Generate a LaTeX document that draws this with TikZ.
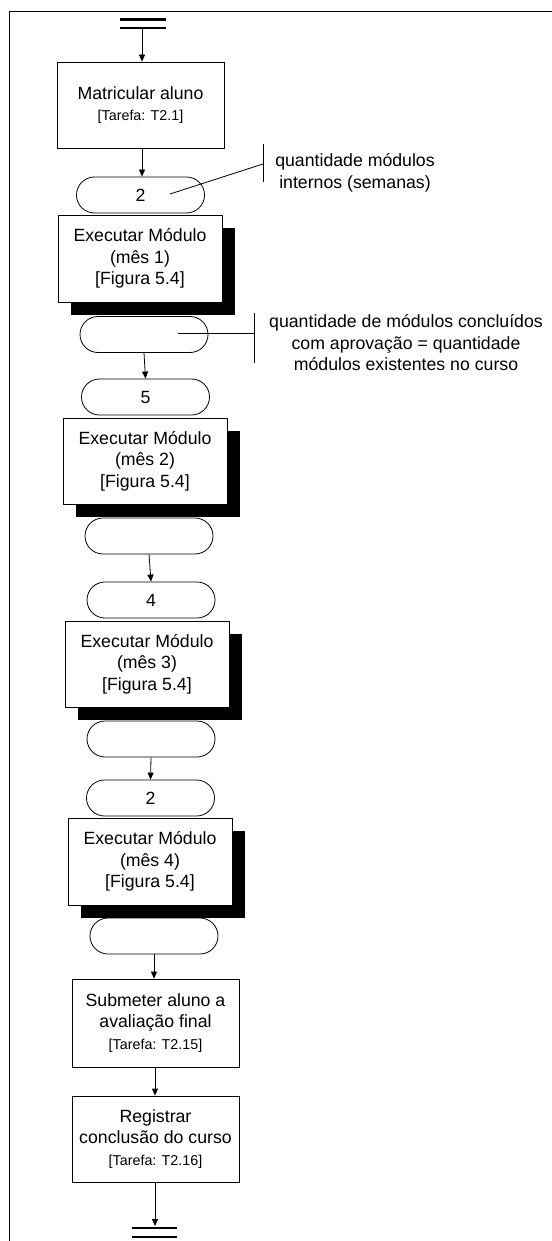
\documentclass[tikz,border=0pt]{standalone}
\usepackage{fontspec}
\setmainfont{Liberation Sans}
\usetikzlibrary{arrows.meta,shapes.misc,shadows}

\newcommand{\grande}{\fontsize{17.7}{21.5}\selectfont}
\newcommand{\tarefa}[1]{{\fontsize{14.3}{17}\selectfont[Tarefa: #1]}}

\tikzset{
  caixa/.style={draw, line width=0.8pt, fill=white, minimum width=167pt,
    minimum height=87pt, align=center, font=\grande, inner sep=0pt},
  modulo/.style={caixa, minimum width=164pt,
    drop shadow={shadow xshift=13pt, shadow yshift=-13pt, fill=black, opacity=1}},
  contador/.style={draw, line width=0.8pt, fill=white, rounded rectangle,
    minimum width=128pt, minimum height=36pt, font=\grande, inner sep=0pt},
  seta/.style={line width=0.8pt, -{Triangle[length=7pt,width=6pt]}},
  barra/.style={line width=2.8pt},
  fio/.style={line width=0.8pt},
  nota/.style={align=center, font=\grande, inner sep=0pt}
}

\begin{document}
\begin{tikzpicture}[x=1pt,y=-1pt]
\useasboundingbox (0,0) rectangle (551,1241);

% Moldura
\draw [line width=1.2pt] (9.5,1260) -- (9.5,11.7) -- (570,11.7);

% Inicio
\coordinate (ini) at (142,28);
\draw [barra] (120,19.5) -- (166,19.5);
\draw [barra] (120,28) -- (166,28);

% Matricula
\node [caixa, minimum height=86pt] (matric) at (140.5,105) {Matricular aluno\\\tarefa{T2.1}};
\node [contador] (qtd1) at (140.5,195) {2};

% Modulo 1
\node [modulo] (mod1) at (140,258.5) {Executar Módulo\\(mês 1)\\{[}Figura 5.4{]}};
\node [contador] (fim1) at (144,334.5) {};
\node [contador] (qtd2) at (145.5,397) {5};

% Modulo 2
\node [modulo, minimum height=86pt] (mod2) at (145,461) {Executar Módulo\\(mês 2)\\{[}Figura 5.4{]}};
\node [contador] (fim2) at (149,536) {};
\node [contador] (qtd3) at (151,600) {4};

% Modulo 3
\node [modulo, minimum height=86pt] (mod3) at (147,664) {Executar Módulo\\(mês 3)\\{[}Figura 5.4{]}};
\node [contador] (fim3) at (151,739) {};
\node [contador] (qtd4) at (150.5,798) {2};

% Modulo 4
\node [modulo] (mod4) at (150,861.5) {Executar Módulo\\(mês 4)\\{[}Figura 5.4{]}};
\node [contador] (fim4) at (154,936) {};

% Avaliacao e conclusao
\node [caixa, minimum height=88pt] (avalia) at (155.5,1023) {Submeter aluno a\\avaliação final\\\tarefa{T2.15}};
\node [caixa, minimum height=86pt] (conclui) at (155.5,1139) {Registrar\\conclusão do curso\\\tarefa{T2.16}};

% Fim
\coordinate (fim) at (155,1226);
\draw [barra] (132,1228) -- (177,1228);
\draw [barra] (132,1237) -- (177,1237);

% Setas
\draw [seta] (ini) -- (ini |- matric.north);
\draw [seta] (matric.south -| ini) -- (qtd1.north -| ini);
\draw [seta] (fim1.south) -- (qtd2.north);
\draw [seta] (fim2.south) -- (qtd3.north);
\draw [seta] (fim3.south) -- (qtd4.north);
\draw [seta] (fim4.south) -- (avalia.north -| fim4.south);
\draw [seta] (avalia.south -| fim) -- (conclui.north -| fim);
\draw [seta] (conclui.south -| fim) -- (fim);

% Anotacao: modulos internos
\coordinate (n1a) at (170,194);
\coordinate (n1b) at (263,164);
\draw [fio] (n1a) -- (n1b);
\draw [fio] (263,144) -- (263,182);
\node [nota] (nota1) at (355,173) {quantidade módulos\\internos (semanas)};

% Anotacao: modulos concluidos
\coordinate (n2a) at (178,333);
\coordinate (n2b) at (254,333);
\draw [fio] (n2a) -- (n2b);
\draw [fio] (254,313) -- (254,363);
\node [nota] (nota2) at (406,343) {quantidade de módulos concluídos\\com aprovação = quantidade\\módulos existentes no curso};
\end{tikzpicture}
\end{document}
